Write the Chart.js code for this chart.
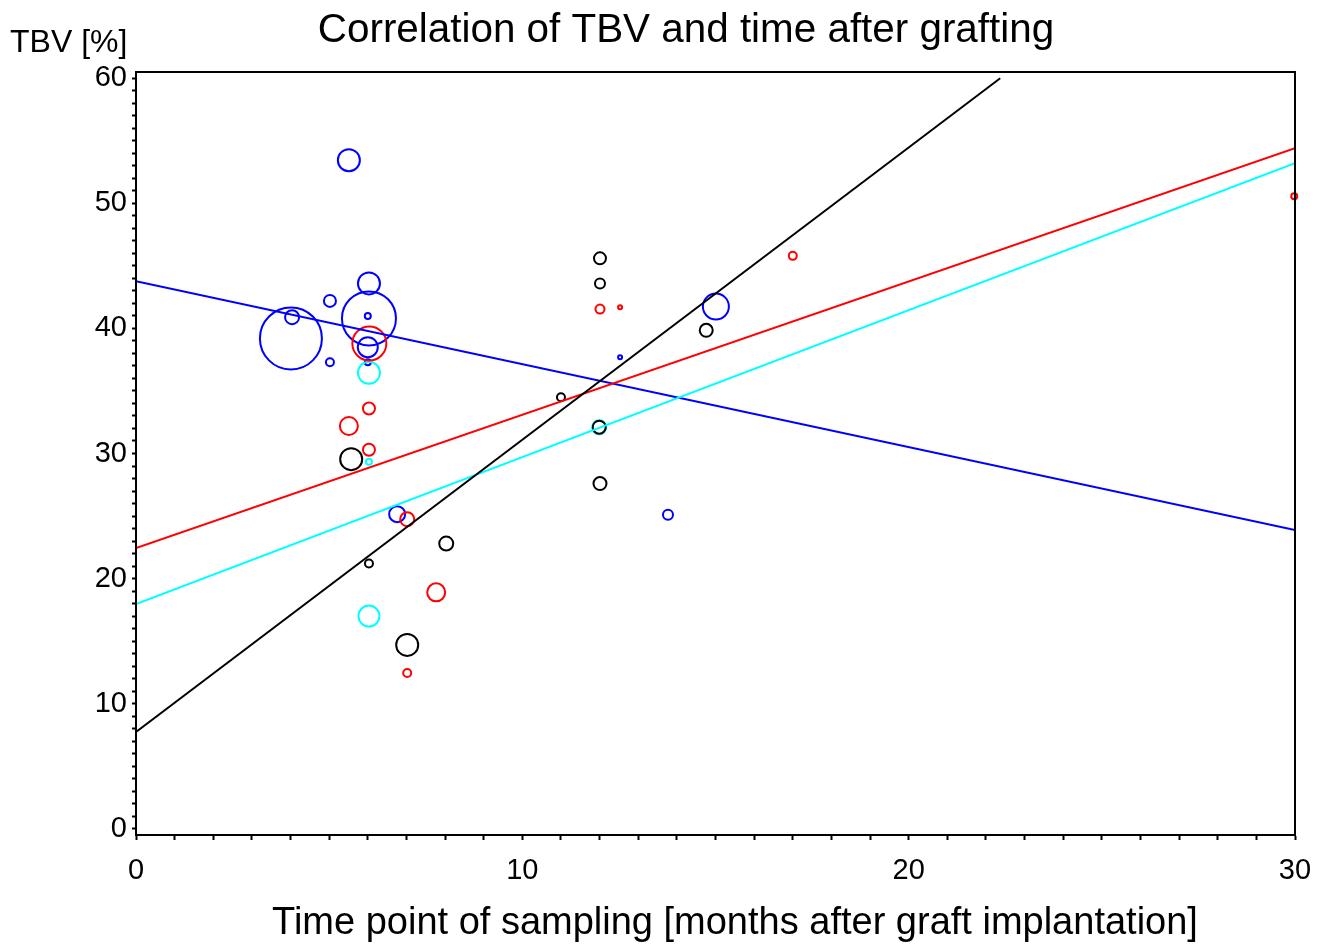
<!DOCTYPE html>
<html>
<head>
<meta charset="utf-8">
<script src="https://cdn.jsdelivr.net/npm/chart.js@4.4.1/dist/chart.umd.min.js"></script>
<style>
  body { margin: 0; background: #fff; }
  canvas { display: block; }
</style>
</head>
<body>
<canvas id="tbvChart" width="1318" height="945"></canvas>
<script>
// values (x = months, y = TBV %, r = circle radius)
const blueX = [5.51, 6.03, 5.02, 4.04, 4.01, 6.03, 6.0, 6.0, 6.0, 5.02, 6.76, 13.77, 15.01, 12.53];
const blueY = [53.45, 43.6, 42.2, 40.9, 39.2, 40.8, 41.0, 38.5, 37.3, 37.3, 25.15, 25.1, 41.75, 37.7];
const blueR = [11, 11, 6, 7, 31, 27, 3, 10, 3, 4, 8, 5, 13, 2];

const redX = [6.04, 6.03, 5.51, 6.03, 7.02, 7.77, 7.02, 12.01, 12.53, 17.0, 29.98];
const redY = [38.8, 33.6, 32.2, 30.3, 24.75, 18.9, 12.45, 41.55, 41.7, 45.8, 50.56];
const redR = [17, 6, 9, 6, 7, 9, 4, 4.5, 2, 4, 3];

const cyanX = [6.03, 6.03, 6.03, 11.99];
const cyanY = [36.45, 29.35, 17.0, 32.1];
const cyanR = [11, 3, 10.5, 7];

const blackX = [5.57, 6.03, 8.03, 7.02, 11.0, 12.01, 12.01, 11.99, 12.01, 14.76];
const blackY = [29.55, 21.2, 22.8, 14.7, 34.5, 45.6, 43.6, 32.1, 27.6, 39.85];
const blackR = [11, 4, 7, 11, 4, 6, 5, 6.5, 6.5, 6.5];

// regression lines: [start, end]
const blueLineX = [0, 30];
const blueLineY = [43.78, 23.88];
const redLineX = [0, 30];
const redLineY = [22.44, 54.41];
const cyanLineX = [0, 30];
const cyanLineY = [17.96, 53.21];
const blackLineX = [0, 22.37];
const blackLineY = [7.73, 60.0];

const xTicks = Array.from({length: 31}, (_, i) => i);
const yTicks = Array.from({length: 61}, (_, i) => i);
const labelEvery = 10;

const titleText = 'Correlation of TBV and time after grafting';
const xTitle = 'Time point of sampling [months after graft implantation]';
const yTitle = 'TBV [%]';

function pts(xs, ys, rs) {
    return xs.map((x, i) => rs ? {x: x, y: ys[i], r: rs[i]} : {x: x, y: ys[i]});
}

function bubbleSet(xs, ys, rs, color) {
    return {
        type: 'bubble',
        data: pts(xs, ys, rs),
        backgroundColor: 'rgba(0,0,0,0)',
        borderColor: color,
        borderWidth: 2,
        clip: false
    };
}

function lineSet(xs, ys, color) {
    return {
        type: 'line',
        data: pts(xs, ys),
        borderColor: color,
        borderWidth: 2,
        pointRadius: 0,
        fill: false
    };
}

const textPlugin = {
    id: 'frameAndText',
    afterDraw(chart) {
        const ctx = chart.ctx;
        const a = chart.chartArea;
        ctx.save();
        ctx.strokeStyle = '#000';
        ctx.lineWidth = 2;
        ctx.strokeRect(a.left, a.top, a.right - a.left, a.bottom - a.top);
        ctx.fillStyle = '#000';
        ctx.textBaseline = 'alphabetic';
        ctx.textAlign = 'center';
        ctx.font = '40.4px "Liberation Sans"';
        ctx.fillText(titleText, 686, 42);
        ctx.font = '38px "Liberation Sans"';
        ctx.fillText(xTitle, 735, 934);
        ctx.textAlign = 'left';
        ctx.font = '32px "Liberation Sans"';
        ctx.fillText(yTitle, 10, 52);
        ctx.restore();
    }
};

const tickLabel = v => (v % labelEvery === 0 ? String(v) : '');

const config = {
    type: 'bubble',
    data: {
        datasets: [
            lineSet(blackLineX, blackLineY, '#000000'),
            lineSet(redLineX, redLineY, '#ff0000'),
            lineSet(cyanLineX, cyanLineY, '#00ffff'),
            lineSet(blueLineX, blueLineY, '#0000ff'),
            bubbleSet(blackX, blackY, blackR, '#000000'),
            bubbleSet(redX, redY, redR, '#ff0000'),
            bubbleSet(cyanX, cyanY, cyanR, '#00ffff'),
            bubbleSet(blueX, blueY, blueR, '#0000ff')
        ]
    },
    options: {
        responsive: false,
        animation: false,
        events: [],
        layout: { autoPadding: false, padding: { top: 72, right: 23, bottom: 0, left: 0 } },
        plugins: {
            legend: { display: false },
            title: { display: false },
            tooltip: { enabled: false }
        },
        scales: {
            x: {
                type: 'linear',
                min: 0,
                max: 30,
                afterBuildTicks: s => { s.ticks = xTicks.map(v => ({value: v})); },
                afterFit: s => { s.height = 110; s.paddingLeft = 0; s.paddingRight = 0; },
                ticks: {
                    autoSkip: false,
                    maxRotation: 0,
                    minRotation: 0,
                    padding: 14,
                    color: '#000',
                    font: { family: 'Liberation Sans', size: 29 },
                    callback: tickLabel
                },
                grid: {
                    drawOnChartArea: false,
                    drawTicks: true,
                    tickLength: 5,
                    tickColor: '#000',
                    tickWidth: 2,
                    color: '#000'
                },
                border: { display: true, color: '#000', width: 2 }
            },
            y: {
                type: 'linear',
                min: -0.5,
                max: 60.5,
                afterBuildTicks: s => { s.ticks = yTicks.map(v => ({value: v})); },
                afterFit: s => { s.width = 136; s.paddingTop = 0; s.paddingBottom = 0; },
                ticks: {
                    autoSkip: false,
                    padding: 5,
                    color: '#000',
                    font: { family: 'Liberation Sans', size: 29 },
                    callback: tickLabel
                },
                grid: {
                    drawOnChartArea: false,
                    drawTicks: true,
                    tickLength: 4,
                    tickColor: '#000',
                    tickWidth: 2,
                    color: '#000'
                },
                border: { display: true, color: '#000', width: 2 }
            }
        }
    },
    plugins: [textPlugin]
};

new Chart(document.getElementById('tbvChart'), config);
</script>
</body>
</html>
